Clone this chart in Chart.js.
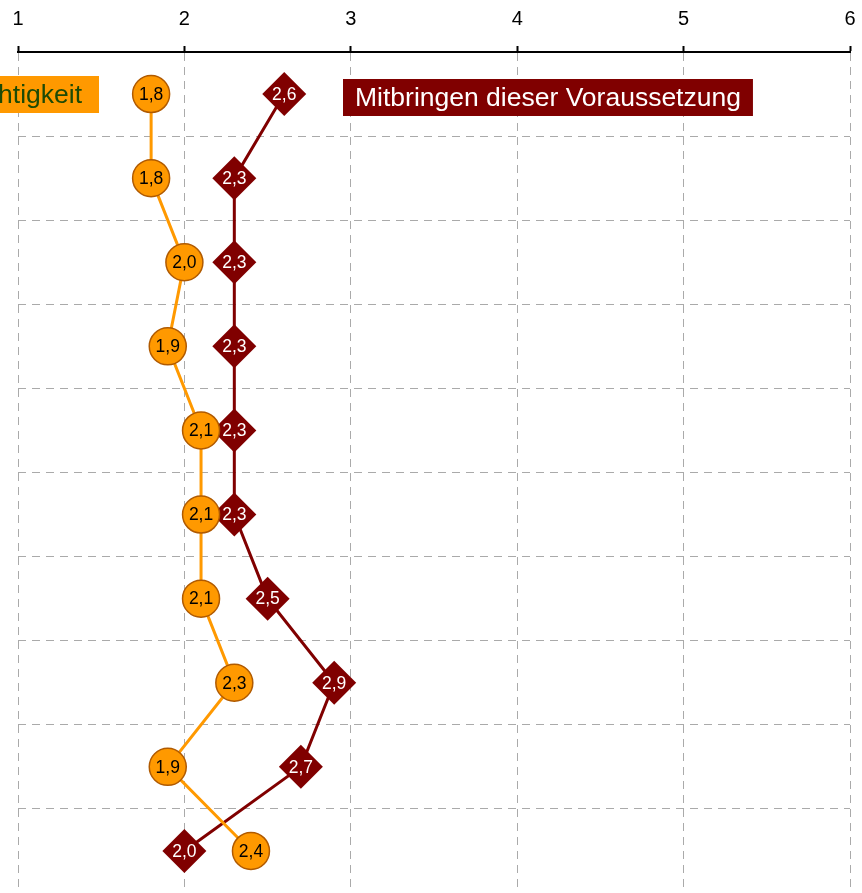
<!DOCTYPE html>
<html lang="de">
<head>
  <meta charset="UTF-8">
  <title>Wichtigkeit und Mitbringen</title>
  <script src="https://cdn.jsdelivr.net/npm/chart.js"></script>
  <style>
      body { margin: 0; background: #ffffff; overflow: hidden; }
      canvas { display: block; }
  </style>
</head>
<body>
  <canvas id="profil" width="862" height="893"></canvas>

  <script>
      // Kriterien (Zeilen von oben nach unten)
      var kriterien = ['K1', 'K2', 'K3', 'K4', 'K5', 'K6', 'K7', 'K8', 'K9', 'K10'];
      var skala = [1, 2, 3, 4, 5, 6];

      var wichtigkeit = [1.8, 1.8, 2.0, 1.9, 2.1, 2.1, 2.1, 2.3, 1.9, 2.4];
      var mitbringen  = [2.6, 2.3, 2.3, 2.3, 2.3, 2.3, 2.5, 2.9, 2.7, 2.0];

      var ORANGE = '#ff9900';
      var DUNKELROT = '#800000';
      var SCHRIFT = '"Liberation Sans", Arial, sans-serif';

      function komma(v) { return v.toFixed(1).replace('.', ','); }

      // Werte in die Markierungen schreiben
      Chart.register({
          id: 'wertLabels',
          afterDatasetsDraw: (chart) => {
              const { ctx } = chart;
              ctx.save();
              ctx.font = '17.5px ' + SCHRIFT;
              ctx.textAlign = 'center';
              ctx.textBaseline = 'middle';
              chart.data.datasets.forEach((ds, i) => {
                  const meta = chart.getDatasetMeta(i);
                  ctx.fillStyle = ds.labelColor;
                  meta.data.forEach((pt, j) => {
                      ctx.fillText(komma(ds.data[j]), pt.x, pt.y + 1);
                  });
              });
              ctx.restore();
          }
      });

      // Beschriftungskästen der beiden Reihen
      Chart.register({
          id: 'reihenKaesten',
          afterDraw: (chart) => {
              const { ctx } = chart;
              ctx.save();
              ctx.font = '26.5px ' + SCHRIFT;
              ctx.textBaseline = 'middle';

              ctx.fillStyle = ORANGE;
              ctx.fillRect(-200, 76, 299, 37);
              ctx.fillStyle = '#1d4a05';
              ctx.textAlign = 'right';
              ctx.fillText('Wichtigkeit', 82, 96);

              const t = 'Mitbringen dieser Voraussetzung';
              const w = ctx.measureText(t).width;
              ctx.fillStyle = DUNKELROT;
              ctx.fillRect(343, 79, w + 24, 37);
              ctx.fillStyle = '#ffffff';
              ctx.textAlign = 'left';
              ctx.fillText(t, 355, 99);
              ctx.restore();
          }
      });

      var profil = new Chart(document.getElementById('profil').getContext('2d'), {
          type: 'line',
          data: {
              labels: kriterien,
              datasets: [
                  {
                      label: 'Wichtigkeit',
                      data: wichtigkeit,
                      order: 1,
                      borderColor: ORANGE,
                      borderWidth: 3,
                      pointStyle: 'circle',
                      pointRadius: 18.5,
                      pointHoverRadius: 18.5,
                      pointBackgroundColor: ORANGE,
                      pointBorderColor: '#b05a00',
                      pointBorderWidth: 1.5,
                      labelColor: '#000000',
                      fill: false,
                      tension: 0,
                      clip: false
                  },
                  {
                      label: 'Mitbringen dieser Voraussetzung',
                      data: mitbringen,
                      order: 2,
                      borderColor: DUNKELROT,
                      borderWidth: 3,
                      pointStyle: 'rectRot',
                      pointRadius: 22,
                      pointHoverRadius: 22,
                      pointBackgroundColor: DUNKELROT,
                      pointBorderColor: DUNKELROT,
                      pointBorderWidth: 0,
                      labelColor: '#ffffff',
                      fill: false,
                      tension: 0,
                      clip: false
                  }
              ]
          },
          options: {
              indexAxis: 'y',
              responsive: false,
              animation: false,
              layout: { autoPadding: false, padding: { left: 18, right: 12, top: 0, bottom: 0 } },
              scales: {
                  x: {
                      type: 'linear',
                      position: 'top',
                      min: skala[0],
                      max: skala[skala.length - 1],
                      afterFit: (s) => { s.height = 52; s.paddingLeft = 0; s.paddingRight = 0; },
                      afterBuildTicks: (s) => { s.ticks = skala.map(v => ({ value: v })); },
                      ticks: {
                          color: '#000000',
                          font: { family: SCHRIFT, size: 20 },
                          padding: 15,
                          callback: (v) => String(v)
                      },
                      grid: {
                          color: '#aaaaaa',
                          lineWidth: 1,
                          tickColor: '#000000',
                          tickWidth: 2,
                          tickLength: 6,
                          tickBorderDash: []
                      },
                      border: { display: true, color: '#000000', width: 2, dash: [8, 6] }
                  },
                  y: {
                      type: 'category',
                      offset: true,
                      afterFit: (s) => { s.width = 0; s.paddingTop = 0; s.paddingBottom = 0; },
                      ticks: { display: false },
                      grid: {
                          offset: true,
                          drawTicks: false,
                          // keine Linie an Ober- und Unterkante
                          color: (c) => (c.type !== 'tick' || c.index === 0) ? 'rgba(0,0,0,0)' : '#aaaaaa',
                          lineWidth: 1
                      },
                      border: { display: false, dash: [8, 6] }
                  }
              },
              plugins: {
                  legend: { display: false },
                  tooltip: { enabled: false }
              }
          }
      });
  </script>
</body>
</html>
